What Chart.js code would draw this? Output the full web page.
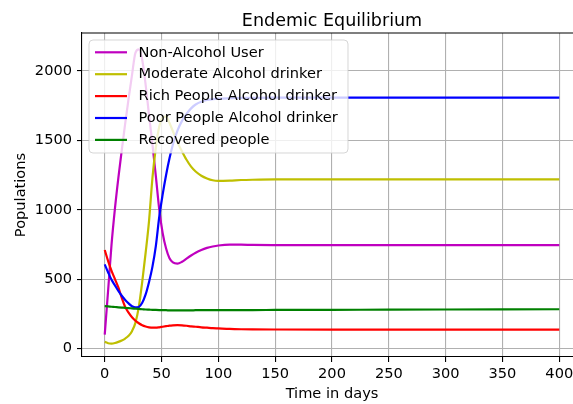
<!DOCTYPE html>
<html>
<head>
<meta charset="utf-8">
<script src="https://cdn.jsdelivr.net/npm/chart.js@4.4.1/dist/chart.umd.min.js"></script>
<style>
  html, body { margin: 0; padding: 0; overflow: hidden; background: #fff; }
  canvas { display: block; }
</style>
</head>
<body>
<canvas id="chart" width="600" height="404"></canvas>
<script>
// time samples (days)
const days = [0, 3, 6, 9, 12, 15, 18, 21, 24, 27, 30, 33, 36, 39, 42, 45, 48, 51, 54, 57, 60,
              64, 68, 72, 76, 80, 85, 90, 95, 100, 110, 120, 130, 150, 200, 250, 300, 350, 400];

const nonAlcohol = [100, 420, 750, 1010, 1230, 1430, 1620, 1800, 1970, 2130, 2155, 2080, 1900, 1680, 1470, 1240, 1000, 830, 720, 650, 620,
                    612, 625, 648, 670, 690, 710, 725, 735, 742, 748, 748, 746, 745, 745, 745, 745, 745, 745];
const moderate = [48, 38, 36, 40, 48, 58, 72, 92, 125, 185, 300, 480, 690, 920, 1230, 1450, 1600, 1665, 1670, 1625, 1565,
                  1485, 1420, 1360, 1310, 1275, 1245, 1225, 1212, 1208, 1210, 1214, 1216, 1218, 1218, 1218, 1218, 1218, 1218];
const rich = [710, 630, 560, 500, 440, 365, 300, 258, 225, 200, 182, 168, 159, 153, 150, 150, 153, 157, 161, 165, 167,
              168, 167, 164, 160, 157, 153, 150, 147, 145, 141, 139, 138, 137, 136, 136, 136, 136, 136];
const poor = [606, 548, 495, 455, 415, 380, 350, 325, 305, 296, 300, 330, 390, 480, 590, 740, 950, 1110, 1250, 1370, 1470,
              1570, 1640, 1690, 1730, 1758, 1778, 1790, 1796, 1800, 1803, 1805, 1806, 1807, 1808, 1808, 1808, 1808, 1808];
const recovered = [305, 303, 301, 299, 297, 295, 293, 291, 289, 287, 285, 283, 281, 280, 279, 278, 277, 276, 276, 275, 275,
                   275, 275, 275, 275, 276, 276, 276, 276, 276, 276, 277, 277, 278, 279, 280, 281, 282, 283];

const seriesNames = ["Non-Alcohol User", "Moderate Alcohol drinker", "Rich People Alcohol drinker",
                     "Poor People Alcohol drinker", "Recovered people"];
const seriesColors = ["#bf00bf", "#bfbf00", "#ff0000", "#0000ff", "#008000"];
const seriesValues = [nonAlcohol, moderate, rich, poor, recovered];

const xTicks = [0, 50, 100, 150, 200, 250, 300, 350, 400];
const yTicks = [0, 500, 1000, 1500, 2000];

const FAMILY = "'DejaVu Sans', sans-serif";
const FS = 14.6;

// title centred over the plot area, like matplotlib
const titlePlugin = {
    id: "mplTitle",
    afterDraw(chart) {
        const { ctx, chartArea } = chart;
        ctx.save();
        ctx.font = "17.5px " + FAMILY;
        ctx.fillStyle = "#000";
        ctx.textAlign = "center";
        ctx.textBaseline = "alphabetic";
        ctx.fillText("Endemic Equilibrium", (chartArea.left + chartArea.right) / 2, 25.5);
        // top spine
        ctx.strokeStyle = "#000";
        ctx.lineWidth = 1.1;
        ctx.beginPath();
        ctx.moveTo(chartArea.left, chartArea.top);
        ctx.lineTo(chartArea.right, chartArea.top);
        ctx.stroke();
        ctx.restore();
    }
};

// legend box in the upper left of the axes
const legendPlugin = {
    id: "mplLegend",
    afterDatasetsDraw(chart) {
        const { ctx } = chart;
        const x0 = 89, y0 = 40, w = 259, h = 113;
        ctx.save();
        ctx.beginPath();
        ctx.roundRect(x0, y0, w, h, 4);
        ctx.fillStyle = "rgba(255,255,255,0.8)";
        ctx.fill();
        ctx.strokeStyle = "rgba(204,204,204,0.8)";
        ctx.lineWidth = 1;
        ctx.stroke();
        ctx.font = FS + "px " + FAMILY;
        ctx.textAlign = "left";
        ctx.textBaseline = "middle";
        seriesNames.forEach((name, i) => {
            const y = 52.3 + i * 21.9;
            ctx.strokeStyle = seriesColors[i];
            ctx.lineWidth = 2.2;
            ctx.beginPath();
            ctx.moveTo(95, y);
            ctx.lineTo(127, y);
            ctx.stroke();
            ctx.fillStyle = "#000";
            ctx.fillText(name, 138.5, y + 0.5);
        });
        ctx.restore();
    }
};

const ctx = document.getElementById("chart").getContext("2d");
new Chart(ctx, {
    type: "line",
    data: {
        datasets: seriesValues.map((vals, i) => ({
            label: seriesNames[i],
            data: days.map((d, j) => ({ x: d, y: vals[j] })),
            borderColor: seriesColors[i],
            borderWidth: 2.2,
            pointRadius: 0,
            fill: false,
            cubicInterpolationMode: "monotone",
            order: seriesValues.length - i
        }))
    },
    options: {
        responsive: false,
        animation: false,
        devicePixelRatio: 1,
        layout: { padding: { top: 33, right: 18, left: 0, bottom: 0 } },
        plugins: {
            legend: { display: false },
            tooltip: { enabled: false },
            title: { display: false }
        },
        scales: {
            x: {
                type: "linear",
                min: -20,
                max: 420,
                afterBuildTicks: s => { s.ticks = xTicks.map(v => ({ value: v })); },
                afterFit: s => { s.height = 47; },
                ticks: { font: { family: FAMILY, size: FS }, color: "#000", padding: 3, maxRotation: 0,
                         autoSkip: false, callback: v => String(v) },
                grid: { color: "#b0b0b0", lineWidth: 1.1, tickLength: 5, tickColor: "#000" },
                border: { color: "#000", width: 1.1 },
                title: { display: true, text: "Time in days", color: "#000",
                         font: { family: FAMILY, size: FS }, padding: { top: 0, bottom: 1 } }
            },
            y: {
                min: -61,
                max: 2273,
                afterBuildTicks: s => { s.ticks = yTicks.map(v => ({ value: v })); },
                afterFit: s => { s.width = 82; },
                ticks: { font: { family: FAMILY, size: FS }, color: "#000", padding: 5, callback: v => String(v) },
                grid: { color: "#b0b0b0", lineWidth: 1.1, tickLength: 5, tickColor: "#000" },
                border: { color: "#000", width: 1.1 },
                title: { display: true, text: "Populations", color: "#000",
                         font: { family: FAMILY, size: FS }, padding: { top: 12.5, bottom: 0 } }
            }
        }
    },
    plugins: [titlePlugin, legendPlugin]
});
</script>
</body>
</html>
